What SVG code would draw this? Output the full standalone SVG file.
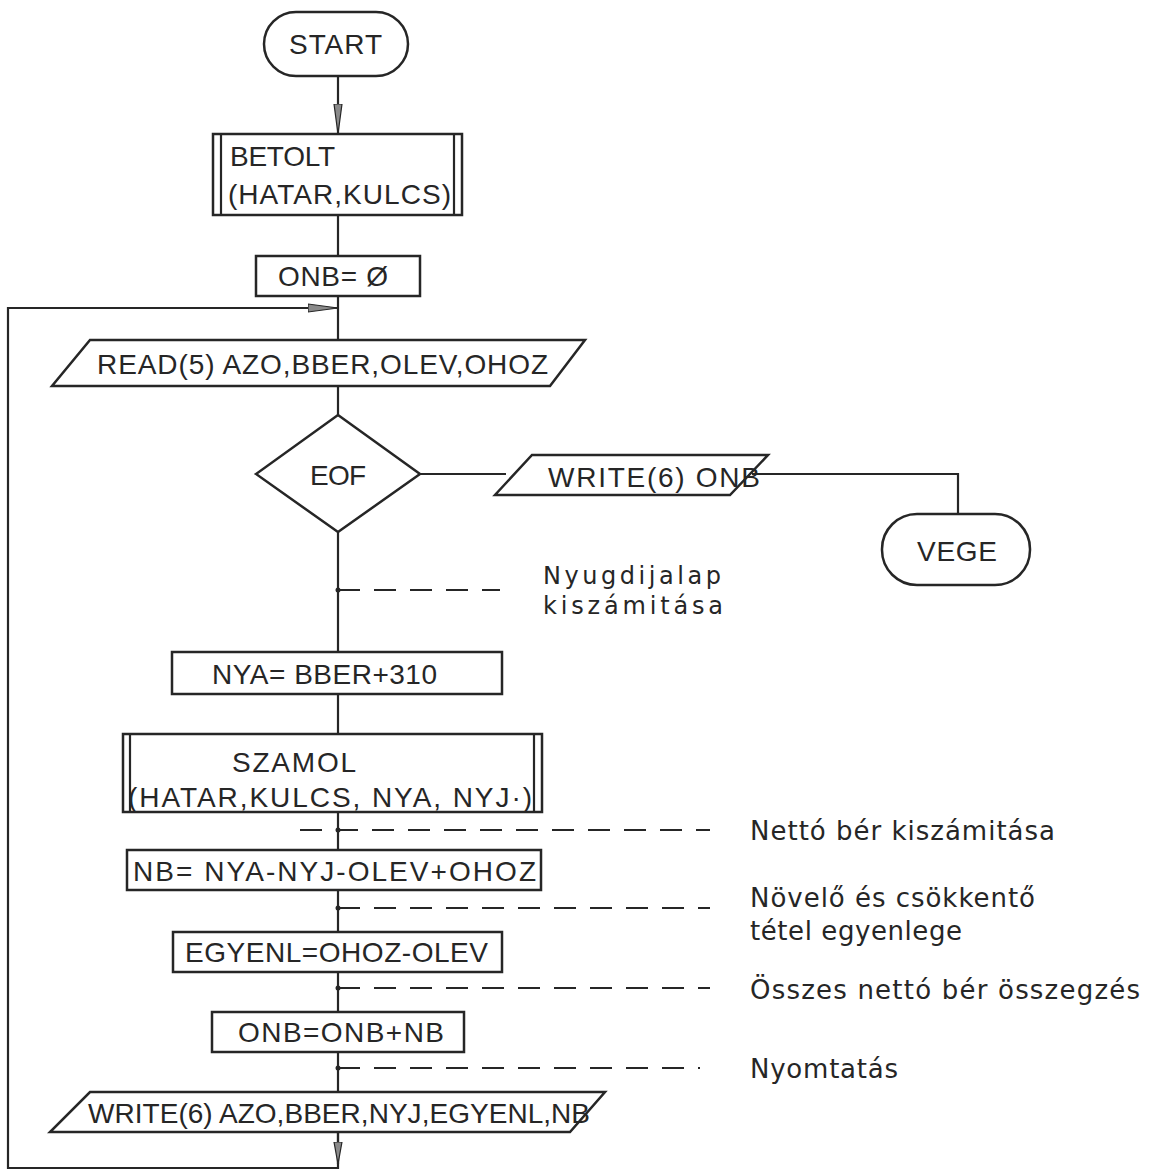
<svg xmlns="http://www.w3.org/2000/svg" width="1152" height="1171" viewBox="0 0 1152 1171">
  <style>
    .shape { fill: #ffffff; stroke: #262626; stroke-width: 2.5; }
    .line { fill: none; stroke: #262626; stroke-width: 2.2; }
    .dash { fill: none; stroke: #262626; stroke-width: 2.2; stroke-dasharray: 22 14; }
    .lbl { font-family: "Liberation Sans", "DejaVu Sans", sans-serif; font-size: 28px; fill: #262626; }
    .note { font-family: "DejaVu Sans", "Liberation Sans", sans-serif; font-size: 26px; fill: #262626; }
    .note-sm { font-family: "DejaVu Sans", "Liberation Sans", sans-serif; font-size: 24px; fill: #262626; }
  </style>
  <defs>
    <marker id="arrow" viewBox="0 0 30 10" refX="30" refY="5" markerWidth="30" markerHeight="10" markerUnits="userSpaceOnUse" orient="auto">
      <path d="M0,1 L30,5 L0,9 Z" fill="#8a8a8a" stroke="#262626" stroke-width="1.2"/>
    </marker>
    <marker id="arrow-short" viewBox="0 0 22 10" refX="22" refY="5" markerWidth="22" markerHeight="10" markerUnits="userSpaceOnUse" orient="auto">
      <path d="M0,1 L22,5 L0,9 Z" fill="#8a8a8a" stroke="#262626" stroke-width="1.2"/>
    </marker>
  </defs>
  <rect width="1152" height="1171" fill="#ffffff"/>

  <!-- connectors -->
  <g id="connectors">
    <line class="line" x1="338" y1="76" x2="338" y2="134" marker-end="url(#arrow)"/>
    <line class="line" x1="338" y1="215" x2="338" y2="256"/>
    <line class="line" x1="338" y1="296" x2="338" y2="340"/>
    <polyline class="line" points="338,1132 338,1168 8,1168 8,308 338,308"/>
    <line class="line" x1="300" y1="308" x2="338" y2="308" marker-end="url(#arrow)"/>
    <line class="line" x1="338" y1="1132" x2="338" y2="1164" marker-end="url(#arrow-short)"/>
    <line class="line" x1="338" y1="386" x2="338" y2="415"/>
    <line class="line" x1="420" y1="474" x2="506" y2="474"/>
    <polyline class="line" points="752,474 958,474 958,514"/>
    <line class="line" x1="338" y1="532" x2="338" y2="652"/>
    <line class="line" x1="338" y1="694" x2="338" y2="734"/>
    <line class="line" x1="338" y1="812" x2="338" y2="850"/>
    <line class="line" x1="338" y1="890" x2="338" y2="932"/>
    <line class="line" x1="338" y1="972" x2="338" y2="1012"/>
    <line class="line" x1="338" y1="1052" x2="338" y2="1092"/>
  </g>

  <!-- comment lines -->
  <g id="comments">
    <line class="dash" x1="338" y1="590" x2="500" y2="590"/>
    <line class="dash" x1="300" y1="830" x2="710" y2="830"/>
    <line class="dash" x1="338" y1="908" x2="710" y2="908"/>
    <line class="dash" x1="338" y1="988" x2="710" y2="988"/>
    <line class="dash" x1="338" y1="1068" x2="700" y2="1068"/>
    <g fill="#262626">
      <circle cx="338" cy="590" r="2.5"/>
      <circle cx="338" cy="830" r="2.5"/>
      <circle cx="338" cy="908" r="2.5"/>
      <circle cx="338" cy="988" r="2.5"/>
      <circle cx="338" cy="1068" r="2.5"/>
    </g>
    <text class="note-sm" x="543" y="584" textLength="178">Nyugdijalap</text>
    <text class="note-sm" x="543" y="614" textLength="180">kiszámitása</text>
    <text class="note" x="750" y="840" textLength="305">Nettó bér kiszámitása</text>
    <text class="note" x="750" y="907" textLength="285">Növelő és csökkentő</text>
    <text class="note" x="750" y="940" textLength="212">tétel egyenlege</text>
    <text class="note" x="750" y="999" textLength="390">Összes nettó bér összegzés</text>
    <text class="note" x="750" y="1078" textLength="148">Nyomtatás</text>
  </g>

  <g id="start">
    <rect class="shape" x="264" y="12" width="144" height="64" rx="32"/>
    <text class="lbl" x="289" y="54" textLength="93">START</text>
  </g>

  <g id="betolt">
    <rect class="shape" x="213" y="134" width="249" height="81"/>
    <line class="line" x1="221" y1="134" x2="221" y2="215"/>
    <line class="line" x1="454" y1="134" x2="454" y2="215"/>
    <text class="lbl" x="230" y="166" textLength="105">BETOLT</text>
    <text class="lbl" x="228" y="204" textLength="223">(HATAR,KULCS)</text>
  </g>

  <g id="onb-init">
    <rect class="shape" x="256" y="256" width="164" height="40"/>
    <text class="lbl" x="278" y="286" textLength="110">ONB= Ø</text>
  </g>

  <g id="read">
    <polygon class="shape" points="90,340 585,340 550,386 52,386"/>
    <text class="lbl" x="97" y="374" textLength="451">READ(5) AZO,BBER,OLEV,OHOZ</text>
  </g>

  <g id="eof">
    <polygon class="shape" points="338,415 420,474 338,532 256,474"/>
    <text class="lbl" x="310" y="485" textLength="56">EOF</text>
  </g>

  <g id="write-onb">
    <polygon class="shape" points="532,455 768,455 730,495 495,495"/>
    <text class="lbl" x="548" y="487" textLength="212">WRITE(6) ONB</text>
  </g>

  <g id="vege">
    <rect class="shape" x="882" y="514" width="148" height="71" rx="35"/>
    <text class="lbl" x="917" y="561" textLength="80">VEGE</text>
  </g>

  <g id="nya">
    <rect class="shape" x="172" y="652" width="330" height="42"/>
    <text class="lbl" x="212" y="684" textLength="225">NYA= BBER+310</text>
  </g>

  <g id="szamol">
    <rect class="shape" x="123" y="734" width="419" height="78"/>
    <line class="line" x1="130" y1="734" x2="130" y2="812"/>
    <line class="line" x1="534" y1="734" x2="534" y2="812"/>
    <text class="lbl" x="232" y="772" textLength="124">SZAMOL</text>
    <text class="lbl" x="128" y="807" textLength="404">(HATAR,KULCS, NYA, NYJ·)</text>
  </g>

  <g id="nb">
    <rect class="shape" x="127" y="850" width="414" height="40"/>
    <text class="lbl" x="133" y="881" textLength="403">NB= NYA-NYJ-OLEV+OHOZ</text>
  </g>

  <g id="egyenl">
    <rect class="shape" x="173" y="932" width="329" height="40"/>
    <text class="lbl" x="185" y="962" textLength="303">EGYENL=OHOZ-OLEV</text>
  </g>

  <g id="onb-sum">
    <rect class="shape" x="212" y="1012" width="252" height="40"/>
    <text class="lbl" x="238" y="1042" textLength="206">ONB=ONB+NB</text>
  </g>

  <g id="write-out">
    <polygon class="shape" points="90,1092 605,1092 570,1132 50,1132"/>
    <text class="lbl" x="88" y="1123" textLength="502">WRITE(6) AZO,BBER,NYJ,EGYENL,NB</text>
  </g>
</svg>
